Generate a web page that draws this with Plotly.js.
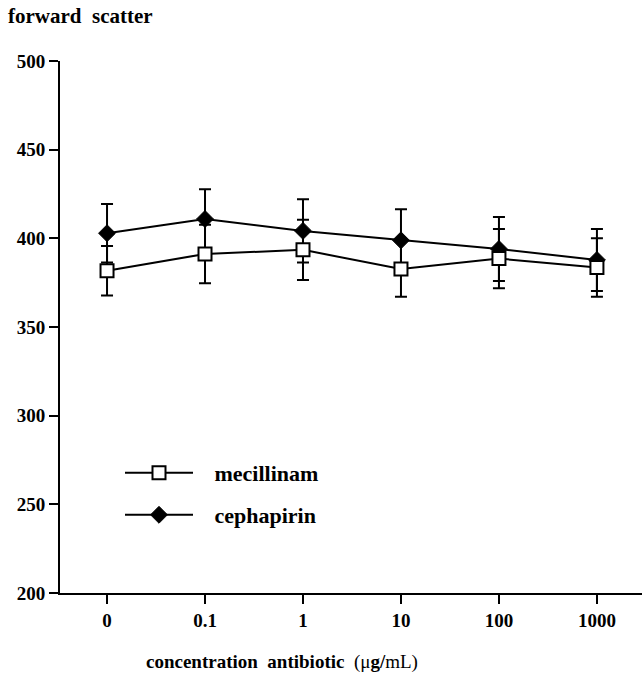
<!DOCTYPE html>
<html>
<head>
<meta charset="utf-8">
<script src="https://cdn.plot.ly/plotly-3.0.1.min.js"></script>
<style>html,body{margin:0;padding:0;background:#fff;}</style>
</head>
<body>
<div id="chart" style="width:642px;height:673px;"></div>
<script>
const categories = ["0", "0.1", "1", "10", "100", "1000"];
const mecillinam = [381.7, 391.2, 393.5, 382.7, 388.6, 383.5];
const mecillinamErr = [14, 16.5, 17, 15.6, 16.7, 16.5];
const cephapirin = [402.9, 410.9, 404.2, 398.9, 394.0, 387.8];
const cephapirinErr = [16.5, 16.8, 17.8, 17.5, 18, 17.5];
const yTicks = [200, 250, 300, 350, 400, 450, 500];

const serif = "Liberation Serif, Times New Roman, serif";

const traces = [
  {
    x: categories, y: cephapirin, name: "\u00a0\u00a0\u00a0cephapirin", type: "scatter", mode: "lines+markers",
    line: {color: "#000", width: 2},
    marker: {symbol: "diamond", size: 13, color: "#000", line: {color: "#000", width: 1}},
    error_y: {type: "data", array: cephapirinErr, visible: true, color: "#000", thickness: 2, width: 6},
    legend: "legend2"
  },
  {
    x: categories, y: mecillinam, name: "\u00a0\u00a0\u00a0mecillinam", type: "scatter", mode: "lines+markers",
    line: {color: "#000", width: 2},
    marker: {symbol: "square", size: 13, color: "#fff", line: {color: "#000", width: 2}},
    error_y: {type: "data", array: mecillinamErr, visible: true, color: "#000", thickness: 2, width: 6},
    legend: "legend"
  }
];

const layout = {
  width: 642, height: 673,
  margin: {l: 60, r: 0, t: 61, b: 80},
  paper_bgcolor: "#fff", plot_bgcolor: "#fff",
  font: {family: serif, color: "#000", size: 18},
  title: {
    text: "<b>forward\u00a0\u00a0scatter</b>", xref: "container", yref: "container",
    x: 8/642, xanchor: "left", y: 1 - 16/673, yanchor: "middle",
    font: {family: serif, size: 21, color: "#000"}
  },
  xaxis: {
    type: "category", range: [-0.48, 5.46],
    showgrid: false, zeroline: false,
    showline: true, linecolor: "#000", linewidth: 2,
    ticks: "outside", ticklen: 9, tickwidth: 2, tickcolor: "#000",
    tickfont: {family: serif, size: 19, color: "#000", weight: "bold"}
  },
  yaxis: {
    range: [200, 500], tickvals: yTicks, ticktext: yTicks.map(String),
    showgrid: false, zeroline: false,
    showline: true, linecolor: "#000", linewidth: 2,
    ticks: "outside", ticklen: 9, tickwidth: 2, tickcolor: "#000",
    tickfont: {family: serif, size: 19, color: "#000", weight: "bold"}
  },
  annotations: [{
    text: "<b>concentration\u00a0\u00a0antibiotic</b>\u00a0\u00a0(μ<b>g/</b>mL)",
    xref: "paper", yref: "paper", x: (282 - 60) / 582, y: (593 - 662) / 532,
    xanchor: "center", yanchor: "middle", showarrow: false,
    font: {family: serif, size: 19, color: "#000"}
  }],
  legend: {
    x: (120 - 60) / 582, xref: "paper", xanchor: "left",
    y: 1 - (473 - 61) / 532, yref: "paper", yanchor: "middle",
    bgcolor: "rgba(0,0,0,0)", itemwidth: 68,
    font: {family: serif, size: 22, color: "#000", weight: "bold"}
  },
  legend2: {
    x: (120 - 60) / 582, xref: "paper", xanchor: "left",
    y: 1 - (515 - 61) / 532, yref: "paper", yanchor: "middle",
    bgcolor: "rgba(0,0,0,0)", itemwidth: 68,
    font: {family: serif, size: 22, color: "#000", weight: "bold"}
  },
  showlegend: true
};

Plotly.newPlot("chart", traces, layout, {displayModeBar: false, staticPlot: true});
</script>
</body>
</html>
